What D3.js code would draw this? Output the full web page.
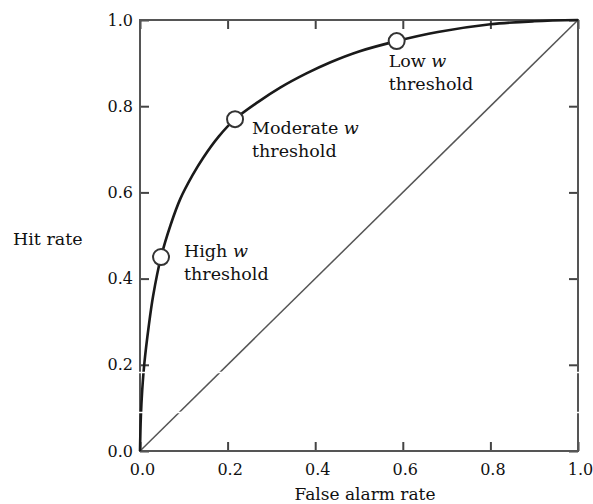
<!DOCTYPE html>
<html>
<head>
<meta charset="utf-8">
<script src="https://cdn.jsdelivr.net/npm/d3@7"></script>
<style>
  body { margin: 0; background: #fff; }
  svg { display: block; }
  text { font-family: "DejaVu Serif", "Liberation Serif", serif; fill: #111; }
</style>
</head>
<body>
<svg id="chart" width="593" height="504"></svg>
<script>
// ROC curve
const falseAlarm = [0, 0.002, 0.005, 0.01, 0.02, 0.03, 0.048, 0.07, 0.092, 0.12, 0.144, 0.18, 0.217, 0.27, 0.32, 0.38, 0.435, 0.5, 0.586, 0.68, 0.8, 0.9, 1.0];
const hitRate    = [0, 0.08, 0.14, 0.204, 0.29, 0.36, 0.45, 0.525, 0.585, 0.64, 0.68, 0.73, 0.77, 0.81, 0.843, 0.876, 0.902, 0.927, 0.951, 0.972, 0.99, 0.997, 1.0];

// marked thresholds
const thresholdNames = ["High", "Moderate", "Low"];
const thresholdFA  = [0.048, 0.217, 0.586];
const thresholdHit = [0.45, 0.77, 0.951];

const tickValues = [0, 0.2, 0.4, 0.6, 0.8, 1.0];

const svg = d3.select("#chart");
const x = d3.scaleLinear().domain([0, 1]).range([140, 578]);
const y = d3.scaleLinear().domain([0, 1]).range([451, 20]);

const fmt = d3.format(".1f");

// axes, ticks pointing in
svg.append("g")
  .attr("transform", `translate(0,${y(0)})`)
  .call(d3.axisBottom(x).tickValues(tickValues).tickFormat(fmt).tickSize(-9).tickPadding(13))
  .call((g) => g.select(".domain").remove())
  .call((g) => g.selectAll("text").attr("dx", 2).style("font-size", "16px"));

svg.append("g")
  .attr("transform", `translate(${x(0)},0)`)
  .call(d3.axisLeft(y).tickValues(tickValues).tickFormat(fmt).tickSize(-9).tickPadding(7))
  .call((g) => g.select(".domain").remove())
  .call((g) => g.selectAll("text").style("font-size", "16px"));

svg.append("g")
  .attr("transform", `translate(0,${y(1)})`)
  .call(d3.axisTop(x).tickValues(tickValues).tickFormat("").tickSize(-9))
  .call((g) => g.select(".domain").remove());

svg.append("g")
  .attr("transform", `translate(${x(1)},0)`)
  .call(d3.axisRight(y).tickValues(tickValues).tickFormat("").tickSize(-9))
  .call((g) => g.select(".domain").remove());

svg.selectAll(".tick line").attr("stroke", "#444").attr("stroke-width", 2);

// frame
svg.append("rect")
  .attr("x", x(0))
  .attr("y", y(1))
  .attr("width", x(1) - x(0))
  .attr("height", y(0) - y(1))
  .attr("fill", "none")
  .attr("stroke", "#555")
  .attr("stroke-width", 2);

// chance diagonal
svg.append("line")
  .attr("x1", x(0)).attr("y1", y(0))
  .attr("x2", x(1)).attr("y2", y(1))
  .attr("stroke", "#555")
  .attr("stroke-width", 1.5);

// ROC curve
const line = d3.line()
  .x((d, i) => x(falseAlarm[i]))
  .y((d, i) => y(hitRate[i]))
  .curve(d3.curveCatmullRom);

svg.append("path")
  .datum(falseAlarm)
  .attr("d", line)
  .attr("fill", "none")
  .attr("stroke", "#1a1a1a")
  .attr("stroke-width", 2.6);

svg.selectAll("circle.thr")
  .data(thresholdNames)
  .join("circle")
  .attr("class", "thr")
  .attr("cx", (d, i) => x(thresholdFA[i]))
  .attr("cy", (d, i) => y(thresholdHit[i]))
  .attr("r", 8)
  .attr("fill", "#fff")
  .attr("stroke", "#333")
  .attr("stroke-width", 2);

// threshold labels
const labelOffsets = [[23, 0], [17, 15], [-8, 26]];
thresholdNames.forEach((name, i) => {
  const t = svg.append("text")
    .attr("x", x(thresholdFA[i]) + labelOffsets[i][0])
    .attr("y", y(thresholdHit[i]) + labelOffsets[i][1])
    .style("font-size", "17.5px");
  t.append("tspan").text(name + " ");
  t.append("tspan").style("font-style", "italic").text("w");
  svg.append("text")
    .attr("x", x(thresholdFA[i]) + labelOffsets[i][0])
    .attr("y", y(thresholdHit[i]) + labelOffsets[i][1] + 23)
    .style("font-size", "17.5px")
    .text("threshold");
});

// axis titles
svg.append("text")
  .attr("x", 13)
  .attr("y", 245)
  .style("font-size", "17.5px")
  .text("Hit rate");

svg.append("text")
  .attr("x", (x(0) + x(1)) / 2 + 6)
  .attr("y", 500)
  .attr("text-anchor", "middle")
  .style("font-size", "17px")
  .text("False alarm rate");

// scan streaks in the original
[372.5, 412.5].forEach((sy) => {
  svg.append("line")
    .attr("x1", 100).attr("x2", 593)
    .attr("y1", sy).attr("y2", sy)
    .attr("stroke", "#fff")
    .attr("stroke-width", 1.5);
});
</script>
</body>
</html>
